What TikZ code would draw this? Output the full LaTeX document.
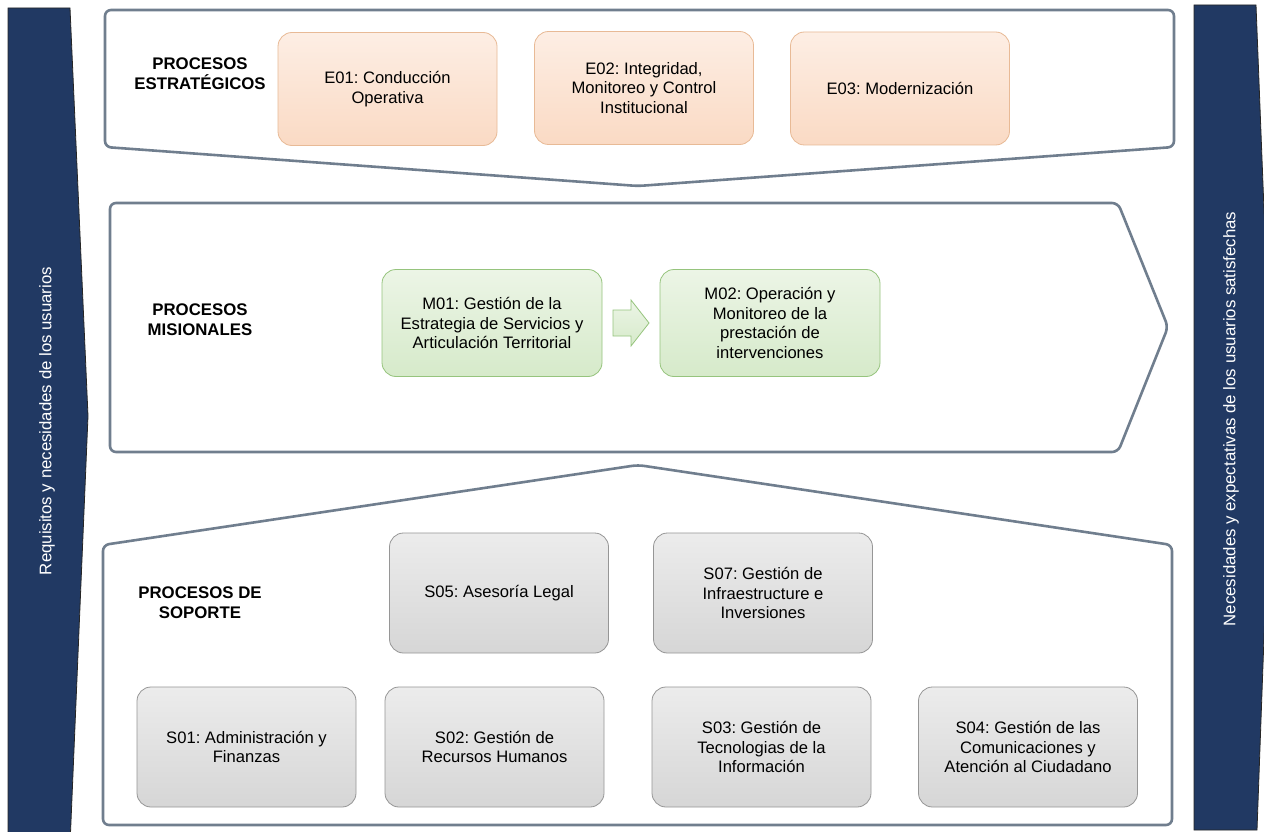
\documentclass[tikz,border=0pt]{standalone}
\usepackage{fontspec}
\setmainfont{Liberation Sans}
\usetikzlibrary{calc}
\frenchspacing
\definecolor{frame}{RGB}{112,126,142}
\definecolor{banner}{RGB}{33,57,99}
\definecolor{eTop}{RGB}{253,238,228}
\definecolor{eBot}{RGB}{250,218,196}
\definecolor{eLine}{RGB}{232,186,150}
\definecolor{mTop}{RGB}{236,245,230}
\definecolor{mBot}{RGB}{214,234,202}
\definecolor{mLine}{RGB}{150,196,125}
\definecolor{sTop}{RGB}{236,236,236}
\definecolor{sBot}{RGB}{214,214,214}
\definecolor{sLine}{RGB}{150,150,150}
\tikzset{
  procframe/.style={draw=frame, line width=2.6pt, rounded corners=6pt, line join=round},
  bannerbox/.style={fill=banner, draw=black!85, line width=0.8pt},
  bannertext/.style={text=white, rotate=90, font=\fontsize{16.8}{20}\selectfont},
  grouplabel/.style={align=center, font=\bfseries\fontsize{16.8}{20}\selectfont},
  procbox/.style={rounded corners=14pt, align=center, line width=0.8pt,
    font=\fontsize{16.6}{19.8}\selectfont, inner sep=2pt},
  ebox/.style={procbox, draw=eLine, top color=eTop, bottom color=eBot, minimum width=219pt, minimum height=113pt},
  mbox/.style={procbox, draw=mLine, top color=mTop, bottom color=mBot, minimum width=220pt, minimum height=107pt},
  sbox/.style={procbox, draw=sLine, top color=sTop, bottom color=sBot, minimum width=219pt, minimum height=120pt},
}
\begin{document}
\begin{tikzpicture}[x=1pt, y=-1pt]
\useasboundingbox (0,0) rectangle (1264,832);
\fill[white] (0,0) rectangle (1264,832);

% side banners
\draw[bannerbox] (8,8) -- (70,8) -- (88,416) -- (70,845) -- (8,845) -- cycle;
\node[bannertext] (reqs) at (47,421) {Requisitos y necesidades de los usuarios};
\draw[bannerbox] (1194,5) -- (1256,5) -- (1272,416) -- (1257,830) -- (1194,830) -- cycle;
\node[bannertext] (needs) at (1231,419) {Necesidades y expectativas de los usuarios satisfechas};

% frames
\draw[procframe] (105,10) -- (1174,10) -- (1174,147) -- (638,186) -- (105,147) -- cycle;
\draw[procframe] (110,203) -- (1118,203) -- (1168,327) -- (1118,452) -- (110,452) -- cycle;
\draw[procframe] (103,545) -- (638,465) -- (1172,545) -- (1172,825) -- (103,825) -- cycle;

% labels
\node[grouplabel] (lblE) at (200,74) {PROCESOS\\ESTRATÉGICOS};
\node[grouplabel] (lblM) at (200,320) {PROCESOS\\MISIONALES};
\node[grouplabel] (lblS) at (200,603) {PROCESOS DE\\SOPORTE};

% strategic
\node[ebox] (e1) at (387.5,89) {E01: Conducción\\Operativa};
\node[ebox] (e2) at (644,88) {E02: Integridad,\\Monitoreo y Control\\Institucional};
\node[ebox] (e3) at (900,88.5) {E03: Modernización};

% missional
\node[mbox] (m1) at (492,323) {M01: Gestión de la\\Estrategia de Servicios y\\Articulación Territorial};
\node[mbox] (m2) at (770,323) {M02: Operación y\\Monitoreo de la\\prestación de\\intervenciones};
\coordinate (arr) at ($(m1.east)!0.5!(m2.west)$);
\draw[draw=mLine, line width=0.8pt, top color=mTop, bottom color=mBot, line join=miter]
  ([shift={(-18,-13)}]arr) -- ([shift={(0,-13)}]arr) -- ([shift={(0,-23)}]arr)
  -- ([shift={(18,0)}]arr) -- ([shift={(0,23)}]arr) -- ([shift={(0,13)}]arr)
  -- ([shift={(-18,13)}]arr) -- cycle;

% support
\node[sbox] (s5) at (499,593) {S05: Asesoría Legal};
\node[sbox] (s7) at (763,593) {S07: Gestión de\\Infraestructure e\\Inversiones};
\node[sbox] (s1) at (246.5,747) {S01: Administración y\\Finanzas};
\node[sbox] (s2) at (494.5,747) {S02: Gestión de\\Recursos Humanos};
\node[sbox] (s3) at (761.5,747) {S03: Gestión de\\Tecnologias de la\\Información};
\node[sbox] (s4) at (1028,747) {S04: Gestión de las\\Comunicaciones y\\Atención al Ciudadano};
\end{tikzpicture}
\end{document}
